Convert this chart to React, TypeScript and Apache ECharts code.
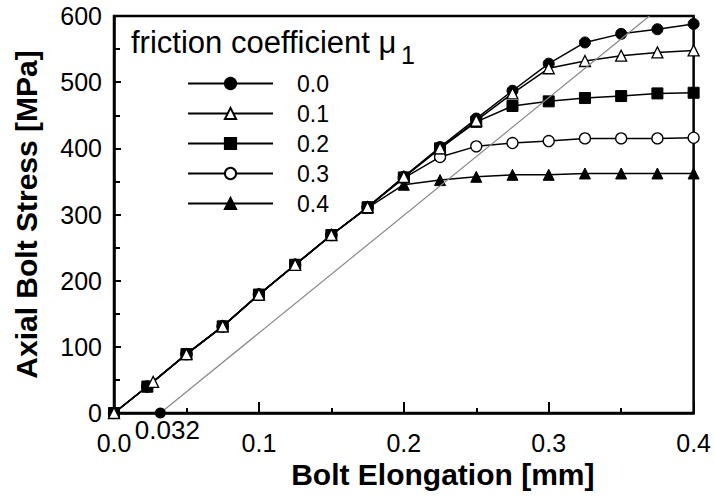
import React, { useEffect, useRef } from "react";
import * as echarts from "echarts";

const elongation = [0, 0.023, 0.05, 0.075, 0.1, 0.125, 0.15, 0.175, 0.2, 0.225, 0.25, 0.275, 0.3, 0.325, 0.35, 0.375, 0.4];
const elongationMu01 = [0, 0.027, 0.05, 0.075, 0.1, 0.125, 0.15, 0.175, 0.2, 0.225, 0.25, 0.275, 0.3, 0.325, 0.35, 0.375, 0.4];
const stressMu00 = [0, 40, 89, 131, 179, 224, 269, 311, 357, 402, 445, 487, 528, 560, 573, 580, 588];
const stressMu01 = [0, 47, 89, 131, 179, 224, 269, 311, 357, 400, 442, 483, 521, 532, 540, 545, 548];
const stressMu02 = [0, 40, 89, 131, 179, 224, 269, 311, 356, 400, 440, 464, 471, 476, 479, 483, 484];
const stressMu03 = [0, 40, 89, 131, 179, 224, 269, 311, 355, 387, 403, 408, 411, 415, 415, 415, 416];
const stressMu04 = [0, 40, 89, 131, 179, 224, 269, 310, 345, 352, 357, 360, 360, 362, 362, 362, 362];

const seriesNames = ["0.0", "0.1", "0.2", "0.3", "0.4"];
const elasticLineX = [0.032, 0.3695];
const elasticLineY = [0, 600];
const offsetPoint = [0.032, 0];
const offsetLabel = "0.032";
const legendTitle = "friction coefficient \u03bc";
const legendSub = "1";
const xTitle = "Bolt Elongation [mm]";
const yTitle = "Axial Bolt Stress [MPa]";

const FONT = "'Liberation Sans', Arial, Helvetica, sans-serif";

function pairs(xs: number[], ys: number[]) {
  return xs.map((x, i) => [x, ys[i]]);
}

export default function App() {
  const ref = useRef<HTMLDivElement>(null);
  useEffect(() => {
    if (!ref.current) return;
    const chart = echarts.init(ref.current, null, { renderer: "svg" });
    const filled = { color: "#000", borderColor: "#000", borderWidth: 1, opacity: 1 };
    const open = { color: "#fff", borderColor: "#000", borderWidth: 1.3, opacity: 1 };
    const mk = (name: string, xs: number[], ys: number[], symbol: string, style: any, z: number) => ({
      name,
      type: "line",
      data: pairs(xs, ys),
      symbol,
      symbolSize: 11,
      showAllSymbol: true,
      clip: false,
      z,
      lineStyle: { color: "#000", width: 1.5 },
      itemStyle: style,
      emphasis: { disabled: true },
    });
    const option: any = {
      animation: false,
      textStyle: { fontFamily: FONT },
      grid: {
        left: 114,
        right: 17,
        top: 16,
        bottom: 88,
        show: true,
        borderColor: "#000",
        borderWidth: 2.5,
        backgroundColor: "transparent",
      },
      legend: {
        data: seriesNames,
        orient: "vertical",
        left: 182,
        top: 67,
        itemWidth: 85,
        itemHeight: 14,
        itemGap: 7,
        selectedMode: false,
        textStyle: { fontSize: 23, color: "#000", fontFamily: FONT, padding: [0, 0, 0, 19] },
      },
      xAxis: {
        type: "value",
        min: 0,
        max: 0.4,
        interval: 0.1,
        name: xTitle,
        nameLocation: "middle",
        nameGap: 43,
        nameTextStyle: { fontSize: 30, fontWeight: "bold", color: "#000", fontFamily: FONT, padding: [0, 0, 0, 78] },
        axisLine: { show: true, lineStyle: { color: "#000", width: 2.5 } },
        axisTick: { show: true, inside: true, length: 11, lineStyle: { color: "#000", width: 2 } },
        minorTick: { show: true, splitNumber: 2, length: 5, lineStyle: { color: "#000", width: 2 } },
        splitLine: { show: false },
        axisLabel: {
          fontSize: 25,
          color: "#000",
          fontFamily: FONT,
          margin: 17,
          formatter: (v: number) => v.toFixed(1),
        },
      },
      yAxis: {
        type: "value",
        min: 0,
        max: 600,
        interval: 100,
        name: yTitle,
        nameLocation: "middle",
        nameGap: 73,
        nameTextStyle: { fontSize: 30, fontWeight: "bold", color: "#000", fontFamily: FONT },
        axisLine: { show: true, lineStyle: { color: "#000", width: 2.5 } },
        axisTick: { show: true, inside: true, length: 7, lineStyle: { color: "#000", width: 2 } },
        minorTick: { show: true, splitNumber: 2, length: 6, lineStyle: { color: "#000", width: 2 } },
        splitLine: { show: false },
        axisLabel: { fontSize: 25, color: "#000", fontFamily: FONT, margin: 12 },
      },
      series: [
        mk(seriesNames[0], elongation, stressMu00, "circle", filled, 5),
        mk(seriesNames[1], elongationMu01, stressMu01, "triangle", open, 6),
        mk(seriesNames[2], elongation, stressMu02, "rect", filled, 4),
        mk(seriesNames[3], elongation, stressMu03, "circle", open, 3),
        mk(seriesNames[4], elongation, stressMu04, "triangle", filled, 2),
        {
          name: "elastic",
          type: "line",
          data: pairs(elasticLineX, elasticLineY),
          symbol: "none",
          clip: true,
          z: 7,
          lineStyle: { color: "#888", width: 1.2 },
          emphasis: { disabled: true },
          silent: true,
        },
        {
          name: "offset",
          type: "scatter",
          data: [offsetPoint],
          symbol: "circle",
          symbolSize: 11,
          z: 8,
          itemStyle: { color: "#000", opacity: 1 },
          silent: true,
          label: {
            show: true,
            position: "bottom",
            distance: 2,
            offset: [7, -4],
            formatter: () => offsetLabel,
            fontSize: 26,
            color: "#000",
            fontFamily: FONT,
          },
        },
      ],
      graphic: [
        {
          type: "text",
          left: 131,
          top: 27,
          silent: true,
          style: { text: legendTitle, font: `31px ${FONT}`, fill: "#000" },
        },
        {
          type: "text",
          left: 401,
          top: 42,
          silent: true,
          style: { text: legendSub, font: `25px ${FONT}`, fill: "#000" },
        },
      ],
    };
    chart.setOption(option);
    return () => chart.dispose();
  }, []);
  return <div ref={ref} style={{ width: 714, height: 501, position: "absolute", left: 0, top: 0 }} />;
}
